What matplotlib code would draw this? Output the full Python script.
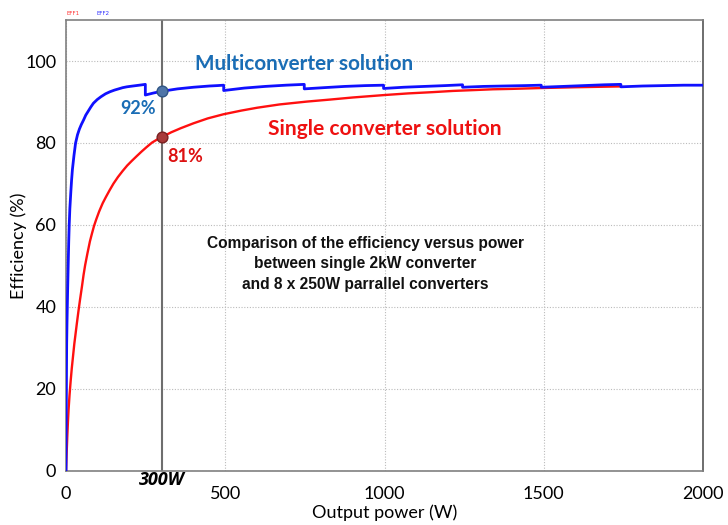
import matplotlib
matplotlib.use("Agg")
import matplotlib.pyplot as plt

# Single 2kW converter efficiency (red)
single_power = [0, 1, 2, 4, 6, 8, 11, 14.6, 18, 22, 26, 30, 34, 39, 44, 50, 55, 60, 67, 75, 81, 88,
                95, 104, 115, 125, 137, 149, 163, 178, 192, 206, 222, 237, 253, 270, 285, 300,
                330, 360, 400, 445, 494, 550, 600, 670, 756, 830, 900, 1000, 1075, 1150, 1215,
                1279, 1340, 1400, 1489, 1600, 1739]
single_eff = [0, 2.3, 4.5, 8.5, 12, 15, 18.5, 22, 25, 28, 31, 33.5, 36, 39, 41.8, 45, 47.8, 50.2, 53,
              56, 57.8, 59.8, 61.4, 63.3, 65.3, 66.8, 68.5, 70.1, 71.7, 73.2, 74.5, 75.6, 76.8,
              77.9, 79.0, 80.1, 80.8, 81.4, 82.6, 83.6, 84.8, 86.0, 87.0, 87.9, 88.6, 89.4, 90.1,
              90.6, 91.1, 91.7, 92.1, 92.4, 92.7, 92.9, 93.1, 93.2, 93.4, 93.6, 93.8]

# 8 x 250W parallel converters efficiency (blue)
multi_power = [0, 0.5, 1, 1.5, 2, 3, 4, 5, 7, 8.5, 10, 12, 15, 17.5, 20, 25, 30, 36, 42, 48, 55, 62,
               70, 78, 86, 98, 110, 124, 138, 152, 165, 178, 191, 205, 220, 235, 249,
               249, 275, 300, 325, 350, 375, 400, 425, 450, 475, 495,
               495, 560, 625, 690, 748,
               748, 810, 875, 940, 997,
               997, 1060, 1125, 1190, 1245,
               1245, 1310, 1375, 1440, 1492,
               1492, 1560, 1625, 1690, 1742,
               1742, 1810, 1875, 1940, 2000]
multi_eff = [0, 10, 18, 25, 31, 36, 40, 44, 51, 56, 60, 64, 68, 71, 73.5, 77, 80, 82, 83.4, 84.5,
             85.6, 86.8, 87.8, 88.8, 89.7, 90.6, 91.3, 92.0, 92.5, 92.9, 93.2, 93.5, 93.7, 93.85,
             94.0, 94.15, 94.3,
             91.7, 92.2, 92.6, 92.9, 93.2, 93.4, 93.6, 93.75, 93.9, 94.0, 94.1,
             92.8, 93.4, 93.8, 94.1, 94.3,
             93.2, 93.5, 93.8, 94.0, 94.1,
             93.3, 93.6, 93.8, 94.0, 94.2,
             93.6, 93.8, 93.9, 94.0, 94.1,
             93.6, 93.8, 94.0, 94.2, 94.3,
             93.7, 93.9, 94.0, 94.1, 94.1]

x_ticks = [0, 500, 1000, 1500, 2000]
y_ticks = [0, 20, 40, 60, 80, 100]
marker_power = 300
marker_multi = 92.6
marker_single = 81.4

fig = plt.figure(figsize=(7.28, 5.25), dpi=100)
ax = fig.add_axes([0.0907, 0.1029, 0.875, 0.859])

ax.set_xlim(0, 2000)
ax.set_ylim(0, 110)
ax.set_xticks(x_ticks)
ax.set_yticks(y_ticks)
ax.tick_params(axis="both", length=0, labelsize=13)
ax.tick_params(axis="x", pad=11)
ax.tick_params(axis="y", pad=7)
for lab in ax.get_xticklabels() + ax.get_yticklabels():
    lab.set_fontfamily("Lato")

ax.grid(True, color="#bbbbbb", linestyle=(0, (1, 1.5)), linewidth=0.8)
ax.set_axisbelow(True)
for s in ["left", "top", "bottom"]:
    ax.spines[s].set_color("#808080")
    ax.spines[s].set_linewidth(1.2)
ax.spines["right"].set_color("#555555")
ax.spines["right"].set_linestyle((0, (2, 1)))
ax.spines["right"].set_linewidth(1.2)

ax.axvline(marker_power, color="#6e6e6e", linewidth=1.5, zorder=2)

ax.plot(single_power, single_eff, color="#ff1010", linewidth=1.7, zorder=3)
ax.plot(multi_power, multi_eff, color="#1010ff", linewidth=2.0, zorder=4)

ax.scatter([marker_power], [marker_multi], s=60, color="#4f75a8", edgecolor="#2f5585",
           linewidth=1, zorder=5)
ax.scatter([marker_power], [marker_single], s=60, color="#a83a3a", edgecolor="#7a2020",
           linewidth=1, zorder=5)

ax.text(405, 99.2, "Multiconverter solution", color="#1a6db5", fontsize=14.9,
        fontweight="bold", fontfamily="Lato", va="center", ha="left")
ax.text(635, 83.5, "Single converter solution", color="#ee1111", fontsize=15.1,
        fontweight="bold", fontfamily="Lato", va="center", ha="left")
ax.text(170, 88.4, "92%", color="#1a6db5", fontsize=13, fontweight="bold",
        fontfamily="Lato", va="center", ha="left")
ax.text(318, 76.6, "81%", color="#dd1111", fontsize=13, fontweight="bold",
        fontfamily="Lato", va="center", ha="left")

ax.text(940, 50.5, "Comparison of the efficiency versus power\nbetween single 2kW converter\nand 8 x 250W parrallel converters",
        color="#111111", fontsize=11.2, fontweight="bold", fontfamily="Liberation Sans",
        ha="center", va="center", linespacing=1.45)

ax.set_xlabel("Output power (W)", fontsize=13, fontfamily="Lato")
ax.xaxis.set_label_coords(0.5, -0.075)
ax.set_ylabel("Efficiency (%)", fontsize=13, fontfamily="Lato")
ax.yaxis.set_label_coords(-0.061, 0.5)

ax.text(marker_power, -2.2, "300W", fontsize=13, fontweight="bold", fontstyle="italic",
        fontfamily="Open Sans", ha="center", va="center", clip_on=False)

fig.text(0.091, 0.975, "EFF1", color="#ff3030", fontsize=4, ha="left", va="center")
fig.text(0.133, 0.975, "EFF2", color="#3030ff", fontsize=4, ha="left", va="center")

fig.savefig("out.png", dpi=100)
